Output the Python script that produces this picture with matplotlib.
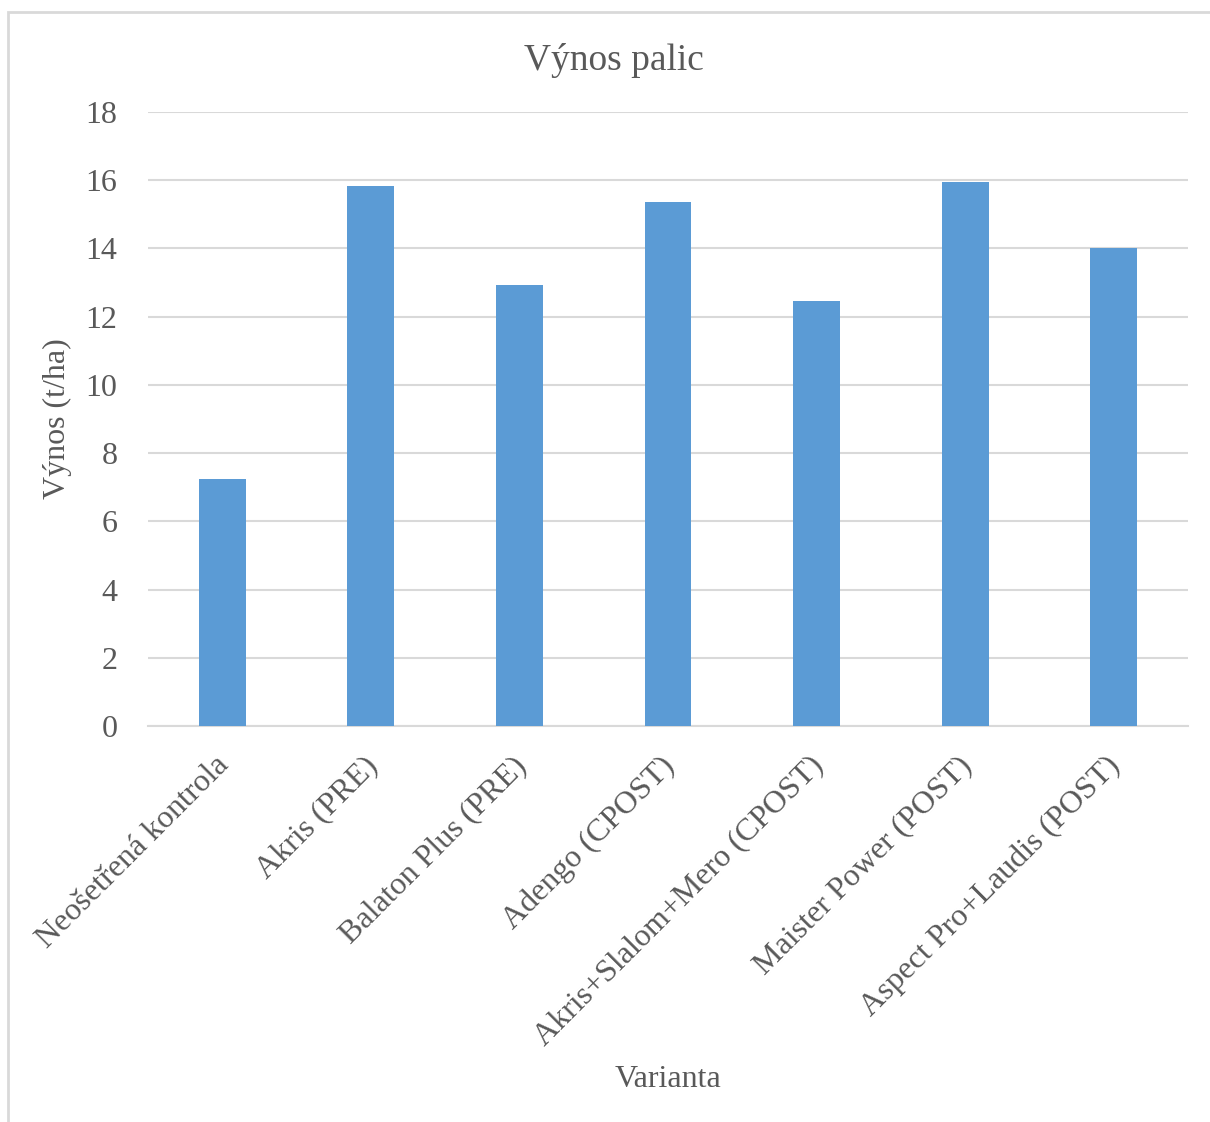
import matplotlib.pyplot as plt
from matplotlib.patches import Rectangle
from matplotlib.transforms import ScaledTranslation

# data
varianty = [
    "Neošetřená kontrola",
    "Akris (PRE)",
    "Balaton Plus (PRE)",
    "Adengo (CPOST)",
    "Akris+Slalom+Mero (CPOST)",
    "Maister Power (POST)",
    "Aspect Pro+Laudis (POST)",
]
vynos = [7.23, 15.83, 12.93, 15.36, 12.47, 15.95, 14.01]
y_ticks = [0, 2, 4, 6, 8, 10, 12, 14, 16, 18]

TEXT = "#595959"
GRID = "#D9D9D9"
BAR = "#5B9BD5"

plt.rcParams["font.family"] = ["Liberation Serif", "DejaVu Serif"]

fig = plt.figure(figsize=(12.1, 11.22), dpi=100)
ax = fig.add_axes([148 / 1210, 1 - 726 / 1122, 1040 / 1210, 614 / 1122])

x = range(len(varianty))
ax.bar(x, vynos, width=0.316, color=BAR, zorder=3)

ax.set_xlim(-0.5, len(varianty) - 0.5)
ax.set_ylim(0, 18)
ax.set_yticks(y_ticks)
ax.yaxis.grid(True, color=GRID, linewidth=1.5, zorder=0)
ax.set_axisbelow(True)

for s in ["top", "right", "left"]:
    ax.spines[s].set_visible(False)
ax.spines["bottom"].set_color(GRID)
ax.spines["bottom"].set_linewidth(1.5)

ax.tick_params(axis="both", length=0, labelsize=23, labelcolor=TEXT)
ax.tick_params(axis="y", pad=22)
ax.set_xticks(list(x))
ax.set_xticklabels(varianty, rotation=45, ha="right", rotation_mode="anchor")
ax.tick_params(axis="x", pad=18)
shift = ScaledTranslation(-0.08, 0, fig.dpi_scale_trans)
for lbl in ax.get_xticklabels():
    lbl.set_transform(lbl.get_transform() + shift)

fig.text(614 / 1210, 1 - 60 / 1122, "Výnos palic", fontsize=27, color=TEXT,
         ha="center", va="center")
ax.set_ylabel("Výnos (t/ha)", fontsize=23, color=TEXT, labelpad=10)
ax.set_xlabel("Varianta", fontsize=23, color=TEXT, labelpad=10)

# chart frame
fig.patches.append(Rectangle((8 / 1210, -0.05), 1.1, 1.05 - 12 / 1122,
                             transform=fig.transFigure, fill=False,
                             edgecolor=GRID, linewidth=2))

fig.savefig("out.png", dpi=100)
